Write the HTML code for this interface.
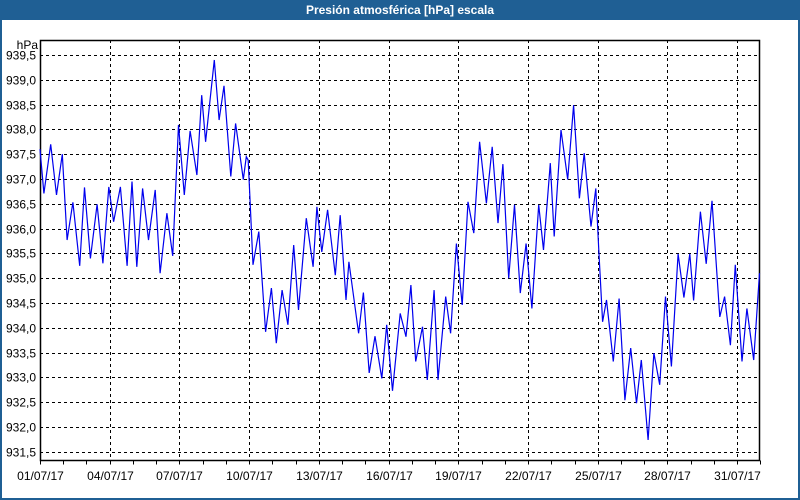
<!DOCTYPE html>
<html><head><meta charset="utf-8">
<style>
html,body{margin:0;padding:0;background:#fff;}
#wrap{position:relative;width:800px;height:500px;overflow:hidden;font-family:"Liberation Sans",sans-serif;}
#title{position:absolute;left:0;top:0;width:800px;height:20px;background:#1f5f94;color:#fff;font-weight:bold;font-size:12px;line-height:20px;text-align:center;}
#frame{position:absolute;left:0;top:20px;width:796px;height:478px;border-left:2px solid #1f5f94;border-right:2px solid #1f5f94;border-bottom:2px solid #1f5f94;}
svg{position:absolute;left:0;top:0;}
</style></head>
<body>
<div id="wrap">
<div id="title">Presión atmosférica [hPa] escala</div>
<div id="frame"></div>
<svg id="chart" width="800" height="500"></svg>
</div>
<script>
const hours = [0,4,11,17,23,28,34,41,46,52,59,65,71,76,83,90,95,100,106,112,119,124,131,137,143,149,155,162,167,171,180,185,190,197,202,210,213,215,220,226,233,239,244,250,256,262,267,275,282,286,291,297,305,310,316,319,329,334,340,346,353,358,364,372,378,383,388,395,400,407,411,419,424,430,436,442,448,454,461,467,473,478,484,490,496,502,508,515,520,527,531,538,545,551,557,562,569,574,577,581,585,592,598,604,610,616,621,628,634,640,646,652,659,665,671,675,682,688,694,702,707,713,718,725,730,737,743];
const pressure = [937.6,936.71,937.7,936.68,937.5,935.77,936.53,935.25,936.83,935.4,936.49,935.3,936.84,936.14,936.84,935.25,936.95,935.23,936.81,935.77,936.78,935.1,936.31,935.45,938.09,936.68,937.97,937.08,938.69,937.75,939.4,938.19,938.88,937.05,938.12,936.99,937.45,937.38,935.27,935.94,933.92,934.8,933.69,934.76,934.06,935.67,934.36,936.21,935.23,936.44,935.53,936.38,935.06,936.27,934.56,935.33,933.89,934.71,933.09,933.83,932.98,934.06,932.73,934.29,933.82,934.86,933.32,934.02,932.95,934.76,932.95,934.63,933.89,935.7,934.46,936.54,935.91,937.75,936.51,937.65,936.11,937.3,935.0,936.48,934.7,935.7,934.39,936.48,935.57,937.32,935.84,937.99,936.99,938.49,936.61,937.52,936.04,936.81,935.6,934.12,934.56,933.32,934.59,932.54,933.59,932.48,933.35,931.74,933.49,932.85,934.63,933.22,935.49,934.61,935.49,934.55,936.34,935.29,936.56,934.22,934.63,933.65,935.27,933.32,934.39,933.35,935.1];
const yTicks = ["931,5","932,0","932,5","933,0","933,5","934,0","934,5","935,0","935,5","936,0","936,5","937,0","937,5","938,0","938,5","939,0","939,5"];
const yTickValues = [931.5,932,932.5,933,933.5,934,934.5,935,935.5,936,936.5,937,937.5,938,938.5,939,939.5];
const xTicks = ["01/07/17","04/07/17","07/07/17","10/07/17","13/07/17","16/07/17","19/07/17","22/07/17","25/07/17","28/07/17","31/07/17"];
const xTickDays = [0,3,6,9,12,15,18,21,24,27,30];

const L=40,R=760,T=40,B=460.5;
const pxPerDay=23.24;
const xScale=h=>L+h/24*pxPerDay;
const yScale=p=>55+(939.5-p)*49.6;
const NS="http://www.w3.org/2000/svg";
const svg=document.getElementById('chart');
function mk(tag,attrs){const e=document.createElementNS(NS,tag);for(const k in attrs)e.setAttribute(k,attrs[k]);svg.appendChild(e);return e;}

mk('rect',{x:L,y:T,width:R-L,height:B-T,fill:'#fff'});
yTickValues.forEach((v,i)=>{
  const y=Math.round(yScale(v))+0.5;
  const g=mk('line',{x1:L,x2:R,y1:y,y2:y,stroke:'#000','stroke-width':1,'stroke-dasharray':'3,3'});
  
  
  const t=mk('text',{x:36,y:y+4,'text-anchor':'end','font-size':12,fill:'#000','font-family':'Liberation Sans, sans-serif'});
  t.textContent=yTicks[i];
  
  
});
xTickDays.forEach((d,i)=>{
  const x=Math.round(xScale(d*24))+0.5;
  if(d>0){
    const g=mk('line',{x1:x,x2:x,y1:T,y2:B,stroke:'#000','stroke-width':1,'stroke-dasharray':'3,3'});
    
    
  }
  const t=mk('text',{x:x,y:480,'text-anchor':'middle','font-size':12,fill:'#000','font-family':'Liberation Sans, sans-serif'});
  t.textContent=xTicks[i];
  
  
});
for(let d=0;d<=31;d++){
  const x=Math.round(xScale(d*24))+0.5;
  const tk=mk('line',{x1:x,x2:x,y1:B,y2:B+4,stroke:'#000','stroke-width':1});
  
  
}
const ax=mk('rect',{x:L+0.5,y:T+0.5,width:R-L-1,height:B-T-0.5,fill:'none',stroke:'#000','stroke-width':1.5});


const unit=mk('text',{x:38,y:49,'text-anchor':'end','font-size':12,fill:'#000','font-family':'Liberation Sans, sans-serif'});
unit.textContent='hPa';



const pts=hours.map((h,i)=>xScale(h).toFixed(1)+','+yScale(pressure[i]).toFixed(1)).join(' ');
const line=mk('polyline',{points:pts,fill:'none',stroke:'#0000ee','stroke-width':1.2,'stroke-linejoin':'miter'});


</script>
</body></html>
